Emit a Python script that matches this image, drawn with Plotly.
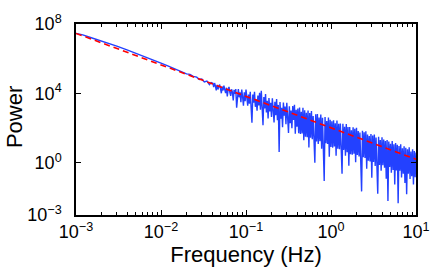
import plotly.graph_objects as go

# log10 of frequency (Hz) for each spectrum sample
log10_freq = [
    -3.00, -2.92, -2.82, -2.70, -2.60, -2.52, -2.40, -2.30, -2.22, -2.15,
    -2.10, -2.05, -2.00, -1.92, -1.85, -1.80, -1.74, -1.70, -1.66, -1.62,
    -1.58, -1.55, -1.52, -1.49, -1.46, -1.43, -1.41,
    -1.39, -1.38, -1.37, -1.36, -1.35, -1.34, -1.33, -1.32, -1.31, -1.30,
    -1.29, -1.28, -1.27, -1.26, -1.25, -1.24, -1.23, -1.22, -1.21, -1.20,
    -1.19, -1.18, -1.17, -1.16, -1.15, -1.14, -1.13, -1.12, -1.11, -1.10,
    -1.09, -1.08, -1.07, -1.06, -1.05, -1.04, -1.03, -1.02, -1.01, -1.00,
    -0.99, -0.98, -0.97, -0.96, -0.95, -0.94, -0.93, -0.92, -0.91, -0.90,
    -0.89, -0.88, -0.87, -0.86, -0.85, -0.84, -0.83, -0.82, -0.81, -0.80,
    -0.79, -0.78, -0.77, -0.76, -0.75, -0.74, -0.73, -0.72, -0.71, -0.70,
    -0.69, -0.68, -0.67, -0.66, -0.65, -0.64, -0.63, -0.62, -0.61, -0.60,
    -0.59, -0.58, -0.57, -0.56, -0.55, -0.54, -0.53, -0.52, -0.51, -0.50,
    -0.49, -0.48, -0.47, -0.46, -0.45, -0.44, -0.43, -0.42, -0.41, -0.40,
    -0.39, -0.38, -0.37, -0.36, -0.35, -0.34, -0.33, -0.32, -0.31, -0.30,
    -0.29, -0.28, -0.27, -0.26, -0.25, -0.24, -0.23, -0.22, -0.21, -0.20,
    -0.19, -0.18, -0.17, -0.16, -0.15, -0.14, -0.13, -0.12, -0.11, -0.10,
    -0.09, -0.08, -0.07, -0.06, -0.05, -0.04, -0.03, -0.02, -0.01, 0.00,
    0.01, 0.02, 0.03, 0.04, 0.05, 0.06, 0.07, 0.08, 0.09, 0.10,
    0.11, 0.12, 0.13, 0.14, 0.15, 0.16, 0.17, 0.18, 0.19, 0.20,
    0.21, 0.22, 0.23, 0.24, 0.25, 0.26, 0.27, 0.28, 0.29, 0.30,
    0.31, 0.32, 0.33, 0.34, 0.35, 0.36, 0.37, 0.38, 0.39, 0.40,
    0.41, 0.42, 0.43, 0.44, 0.45, 0.46, 0.47, 0.48, 0.49, 0.50,
    0.51, 0.52, 0.53, 0.54, 0.55, 0.56, 0.57, 0.58, 0.59, 0.60,
    0.61, 0.62, 0.63, 0.64, 0.65, 0.66, 0.67, 0.68, 0.69, 0.70,
    0.71, 0.72, 0.73, 0.74, 0.75, 0.76, 0.77, 0.78, 0.79, 0.80,
    0.81, 0.82, 0.83, 0.84, 0.85, 0.86, 0.87, 0.88, 0.89, 0.90,
    0.91, 0.92, 0.93, 0.94, 0.95, 0.96, 0.97, 0.98, 0.99, 1.00,
]

log10_power = [
    7.46, 7.37, 7.21, 7.03, 6.86, 6.73, 6.51, 6.33, 6.18, 6.05,
    5.95, 5.85, 5.75, 5.59, 5.45, 5.35, 5.25, 5.13, 5.10, 4.98,
    4.94, 4.80, 4.83, 4.66, 4.71, 4.51, 4.63,
    4.59, 4.37, 4.60, 4.44, 4.17, 4.50, 4.23, 4.41, 4.51, 4.28,
    4.01, 4.39, 4.17, 4.45, 4.24, 4.02, 4.33, 3.83, 4.23, 4.38,
    4.06, 3.86, 4.24, 4.07, 3.60, 4.21, 3.97, 4.25, 3.18, 4.06,
    4.25, 3.78, 4.06, 3.49, 4.22, 3.81, 3.29, 4.07, 3.55, 4.23,
    3.66, 3.30, 3.93, 3.41, 4.09, 3.02, 2.31, 3.94, 3.47, 4.10,
    3.23, 3.66, 3.00, 3.88, 3.31, 4.04, 3.07, 4.16, 2.79, 2.17,
    3.80, 3.13, 3.97, 2.90, 3.58, 2.56, 3.74, 2.97, 3.46, 2.64,
    3.72, 3.05, 2.33, 3.52, 2.75, 3.68, 2.46, 3.34, 0.63, 3.51,
    2.54, 3.17, 2.05, 3.48, 2.72, 3.25, 2.23, 3.46, 2.54, 1.73,
    3.26, 2.29, 3.02, 2.00, 3.28, 2.47, 3.35, 1.68, 3.06, 2.09,
    3.13, 1.71, 3.19, 1.67, 2.95, 1.69, 3.17, 1.30, 3.03, 1.51,
    2.89, 1.48, 3.01, 0.89, 2.87, 1.45, 2.99, 1.37, 2.70, 1.38,
    0.01, 2.80, 1.23, 2.81, 1.09, 2.62, 1.25, 2.79, 0.82, 2.60,
    1.13, -1.04, 2.65, 1.13, 2.41, 1.09, 2.62, 0.35, 2.49, 0.92,
    2.40, 0.88, 2.46, 0.95, 2.28, 0.41, 2.44, 0.82, 2.26, 0.79,
    2.27, 0.80, -0.62, 2.26, 0.75, 2.08, 0.41, 2.24, 0.62, 2.06,
    -0.16, 2.07, 0.50, 1.88, 0.47, 2.05, 0.53, 1.96, 0.04, 2.02,
    0.46, 1.84, 0.37, 1.75, 0.18, -1.64, 1.85, 0.33, 1.76, 0.29,
    1.82, -0.34, 1.64, 0.12, 1.55, 0.08, 1.67, -0.85, 1.58, 0.06,
    1.64, -0.18, 1.46, 0.04, -1.78, 1.50, -0.12, 1.32, -0.45, 1.48,
    -0.14, 1.34, -0.28, 1.26, -0.91, 1.32, -2.20, 1.23, -0.23, 1.10,
    -0.57, 1.26, -0.41, 1.08, -1.24, 1.14, -0.43, 1.05, -2.32, 0.97,
    -0.45, 1.08, -0.84, 0.84, -0.62, 0.96, -1.16, 0.87, -1.80, 0.79,
    -0.63, 0.90, -0.92, 0.66, -0.76, 0.78, -1.24, 0.69, -0.83, 0.60,
]

# power-law fit line (end points)
fit_freq = [1e-3, 1e1]
fit_power = [10 ** 7.46, 10 ** 0.21]

x_tick_vals = [1e-3, 1e-2, 1e-1, 1e0, 1e1]
x_tick_text = ["10<sup>−3</sup>", "10<sup>−2</sup>", "10<sup>−1</sup>",
               "10<sup>0</sup>", "10<sup>1</sup>"]
y_tick_vals = [1e-3, 1e0, 1e4, 1e8]
y_tick_text = ["10<sup>−3</sup>", "10<sup>0</sup>", "10<sup>4</sup>",
               "10<sup>8</sup>"]

freq = [10 ** v for v in log10_freq]
power = [10 ** v for v in log10_power]

fig = go.Figure()
fig.add_trace(go.Scatter(
    x=freq, y=power, mode="lines",
    line=dict(color="rgb(35,65,255)", width=1.4),
    showlegend=False, hoverinfo="skip",
))
fig.add_trace(go.Scatter(
    x=fit_freq, y=fit_power, mode="lines",
    line=dict(color="rgb(255,0,0)", width=1.6, dash="6px,4px"),
    showlegend=False, hoverinfo="skip",
))

font_family = "Liberation Sans, Arial, Helvetica, sans-serif"
fig.update_layout(
    width=436, height=273,
    margin=dict(l=76, r=20, t=24, b=58),
    paper_bgcolor="white", plot_bgcolor="white",
    font=dict(family=font_family, size=18, color="black"),
    showlegend=False,
    annotations=[dict(
        text="Power", textangle=-90, showarrow=False,
        xref="paper", yref="paper", x=-76 / 340, y=0.51,
        xanchor="left", yanchor="middle",
        font=dict(size=22, family=font_family, color="black"),
    )],
)
fig.update_xaxes(
    type="log", range=[-3, 1], automargin=False,
    tickmode="array", tickvals=x_tick_vals, ticktext=x_tick_text,
    ticks="inside", ticklen=5, tickwidth=1, tickcolor="black",
    minor=dict(ticks="inside", ticklen=3, tickwidth=1, tickcolor="black", dtick="D1"),
    showline=True, linecolor="black", linewidth=1.5, mirror="ticks",
    showgrid=False, zeroline=False,
    tickfont=dict(size=18),
    title=dict(text="Frequency (Hz)", font=dict(size=22), standoff=2),
)
fig.update_yaxes(
    type="log", range=[-3, 8], automargin=False,
    tickmode="array", tickvals=y_tick_vals, ticktext=y_tick_text,
    ticks="inside", ticklen=5, tickwidth=1, tickcolor="black",
    showline=True, linecolor="black", linewidth=1.5, mirror="ticks",
    showgrid=False, zeroline=False,
    tickfont=dict(size=18), ticklabelstandoff=9,
)

# remove the default page margin so the figure sits at the window's corner
fig.write_html(
    "out.html",
    config={"displayModeBar": False},
    post_script="document.body.style.margin='0px';",
)
